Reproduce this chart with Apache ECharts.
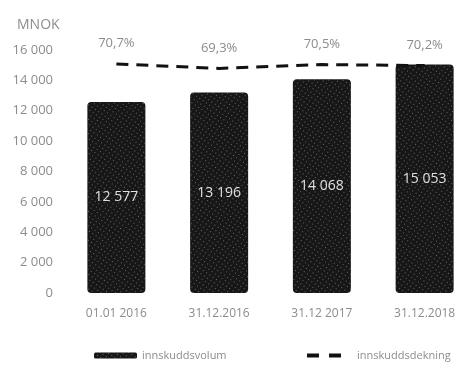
<!DOCTYPE html>
<html>
<head>
<meta charset="utf-8">
<script src="https://cdn.jsdelivr.net/npm/echarts@6/dist/echarts.min.js"></script>
<style>
  html, body { margin: 0; padding: 0; background: #fff; overflow: hidden; width: 459px; height: 369px; }
  /* the original picture is cut at the right edge, so the chart is a bit wider than the window */
  #chart { width: 476px; height: 369px; }
</style>
</head>
<body>
<div id="chart"></div>
<script>
// data
var categories = ['01.01 2016', '31.12.2016', '31.12 2017', '31.12.2018'];
var volum = [12577, 13196, 14068, 15053];      // innskuddsvolum, MNOK
var dekning = [70.7, 69.3, 70.5, 70.2];        // innskuddsdekning, %
var yTicks = [0, 2000, 4000, 6000, 8000, 10000, 12000, 14000, 16000];

function spaced(v) {
    return String(v).replace(/\B(?=(\d{3})+(?!\d))/g, ' ');
}

var grey = '#8c8c8c';
var font = 'Open Sans';

var chart = echarts.init(document.getElementById('chart'));

chart.setOption({
    backgroundColor: '#ffffff',
    animation: false,
    title: {
        text: 'MNOK',
        left: 12,
        top: 13,
        textStyle: { color: grey, fontSize: 14, fontWeight: 'normal', fontFamily: font }
    },
    legend: [
        {
            data: ['innskuddsvolum'],
            left: 89,
            top: 345,
            itemWidth: 43,
            itemHeight: 6,
            textStyle: { color: grey, fontSize: 11, fontFamily: font }
        },
        {
            // two short dashes, like the original legend key
            data: [{
                name: 'innskuddsdekning',
                icon: 'path://M0,0h12v4h-12z M22,0h12v4h-12z',
                itemStyle: { color: '#111' }
            }],
            left: 302,
            top: 345,
            itemWidth: 34,
            itemHeight: 4,
            textStyle: { color: grey, fontSize: 11, fontFamily: font, padding: [0, 0, 0, 11] }
        }
    ],
    grid: {
        left: 65,
        top: 50,
        right: 0,
        bottom: 76
    },
    xAxis: {
        type: 'category',
        data: categories,
        axisLine: { show: false },
        axisTick: { show: false },
        axisLabel: { color: grey, fontSize: 12, fontFamily: font, margin: 15 }
    },
    yAxis: [
        {
            type: 'value',
            min: yTicks[0],
            max: yTicks[yTicks.length - 1],
            interval: 2000,
            axisLine: { show: false },
            axisTick: { show: false },
            splitLine: { show: false },
            axisLabel: {
                color: grey, fontSize: 13, fontFamily: font, margin: 12,
                formatter: function (v) { return spaced(v); }
            }
        },
        {
            type: 'value',
            min: 0,
            max: 75,
            show: false,
            splitLine: { show: false }
        }
    ],
    series: [
        {
            name: 'innskuddsvolum',
            type: 'bar',
            data: volum,
            barWidth: 58,
            itemStyle: {
                color: '#171717',
                borderRadius: 4,
                decal: {
                    symbol: 'rect',
                    symbolSize: 1,
                    dashArrayX: [1, 3],
                    dashArrayY: [1, 3],
                    rotation: 0.6,
                    color: 'rgba(255,255,255,0.35)'
                }
            },
            label: {
                show: true,
                position: 'inside',
                color: '#e0e0e0',
                fontSize: 14,
                fontFamily: font,
                formatter: function (p) { return spaced(p.value); }
            }
        },
        {
            name: 'innskuddsdekning',
            type: 'line',
            yAxisIndex: 1,
            data: dekning,
            symbol: 'circle',
            symbolSize: 0,
            showSymbol: true,
            lineStyle: { color: '#111', width: 3, type: [12, 8] },
            itemStyle: { color: '#111' },
            label: {
                show: true,
                position: 'top',
                distance: 14,
                color: grey,
                fontSize: 13,
                fontFamily: font,
                formatter: function (p) { return p.value.toFixed(1).replace('.', ',') + '%'; }
            },
            z: 5
        }
    ]
});
</script>
</body>
</html>
